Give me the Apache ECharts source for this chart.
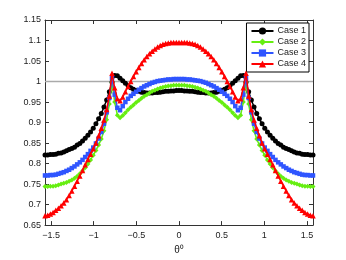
<!DOCTYPE html>
<html><head><meta charset="utf-8">
<script src="https://cdn.jsdelivr.net/npm/echarts@6/dist/echarts.min.js"></script>
<style>html,body{margin:0;padding:0;background:#fff}#c{width:346px;height:260px}</style>
</head><body><div id="c"></div>
<script>
const seriesNames = ['Case 1','Case 2','Case 3','Case 4'];
const xTicks = [-1.5,-1,-0.5,0,0.5,1,1.5];
const xTickLabels = ['\u22121.5','\u22121','\u22120.5','0','0.5','1','1.5'];
const yTicks = [0.65,0.7,0.75,0.8,0.85,0.9,0.95,1,1.05,1.1,1.15];
// sample grid: 101 angles from -pi/2 to pi/2
const theta = Array.from({length:101},(_,i)=>-Math.PI/2 + i*Math.PI/100);

const case1 = [
0.821,0.821,0.822,0.822,0.823,0.825,0.826,0.828,0.831,0.834,
0.837,0.840,0.845,0.849,0.855,0.862,0.869,0.877,0.886,0.897,
0.909,0.922,0.938,0.955,0.975,0.998,1.015,1.014,1.008,1.002,
0.996,0.990,0.985,0.981,0.978,0.976,0.974,0.973,0.972,0.972,
0.972,0.973,0.973,0.974,0.975,0.976,0.976,0.977,0.977,0.978,
0.978,
0.978,0.977,0.977,0.976,0.976,0.975,0.974,0.973,0.973,0.972,
0.972,0.972,0.973,0.974,0.976,0.978,0.981,0.985,0.990,0.996,
1.002,1.008,1.014,1.015,0.998,0.975,0.955,0.938,0.922,0.909,
0.897,0.886,0.877,0.869,0.862,0.855,0.849,0.845,0.840,0.837,
0.834,0.831,0.828,0.826,0.825,0.823,0.822,0.822,0.821,0.821];

const case2 = [
0.744,0.744,0.745,0.745,0.746,0.748,0.750,0.752,0.754,0.757,
0.760,0.764,0.769,0.775,0.782,0.790,0.799,0.809,0.820,0.832,
0.845,0.860,0.880,0.907,0.945,0.998,0.950,0.918,0.912,0.917,
0.924,0.931,0.937,0.943,0.949,0.954,0.959,0.964,0.968,0.972,
0.976,0.979,0.982,0.984,0.986,0.988,0.989,0.990,0.991,0.991,
0.991,
0.991,0.991,0.990,0.989,0.988,0.986,0.984,0.982,0.979,0.976,
0.972,0.968,0.964,0.959,0.954,0.949,0.943,0.937,0.931,0.924,
0.917,0.912,0.918,0.950,0.998,0.945,0.907,0.880,0.860,0.845,
0.832,0.820,0.809,0.799,0.790,0.782,0.775,0.769,0.764,0.760,
0.757,0.754,0.752,0.750,0.748,0.746,0.745,0.745,0.744,0.744];

const case3 = [
0.771,0.771,0.772,0.772,0.773,0.775,0.777,0.779,0.782,0.785,
0.789,0.793,0.798,0.803,0.809,0.816,0.823,0.831,0.839,0.849,
0.861,0.877,0.897,0.925,0.960,1.008,0.968,0.936,0.930,0.940,
0.950,0.958,0.965,0.970,0.975,0.980,0.984,0.988,0.991,0.994,
0.997,0.999,1.001,1.002,1.003,1.004,1.005,1.005,1.006,1.006,
1.006,
1.006,1.006,1.005,1.005,1.004,1.003,1.002,1.001,0.999,0.997,
0.994,0.991,0.988,0.984,0.980,0.975,0.970,0.965,0.958,0.950,
0.940,0.930,0.936,0.968,1.008,0.960,0.925,0.897,0.877,0.861,
0.849,0.839,0.831,0.823,0.816,0.809,0.803,0.798,0.793,0.789,
0.785,0.782,0.779,0.777,0.775,0.773,0.772,0.772,0.771,0.771];

const case4 = [
0.673,0.674,0.677,0.681,0.686,0.691,0.697,0.704,0.712,0.722,
0.733,0.745,0.757,0.770,0.783,0.797,0.810,0.823,0.836,0.850,
0.868,0.886,0.906,0.932,0.965,1.020,0.985,0.958,0.953,0.962,
0.975,0.988,1.000,1.012,1.024,1.034,1.044,1.053,1.061,1.068,
1.074,1.079,1.084,1.088,1.091,1.093,1.094,1.095,1.095,1.095,
1.095,
1.095,1.095,1.095,1.094,1.093,1.091,1.088,1.084,1.079,1.074,
1.068,1.061,1.053,1.044,1.034,1.024,1.012,1.000,0.988,0.975,
0.962,0.953,0.958,0.985,1.020,0.965,0.932,0.906,0.886,0.868,
0.850,0.836,0.823,0.810,0.797,0.783,0.770,0.757,0.745,0.733,
0.722,0.712,0.704,0.697,0.691,0.686,0.681,0.677,0.674,0.673];

const refLevel = 1;

const colors = ['#000000','#66ee11','#2f55ff','#ff0000'];
const symbols = ['circle','diamond','rect','triangle'];
const sizes = [5,5,4.5,5.5];
const allData = [case1,case2,case3,case4];

const font = 'Liberation Sans, Arial, Helvetica, sans-serif';
const axisCol = '#333';
const xMin = -Math.PI/2, xMax = Math.PI/2;

function xAxisDef(pos, show){
  return {
    type:'value', position:pos, min:xMin, max:xMax,
    axisLine:{show:true, onZero:false, lineStyle:{color:axisCol,width:1}},
    axisTick:{show:true, inside:true, length:4, customValues:xTicks, lineStyle:{color:axisCol}},
    axisLabel:{show:show, customValues:xTicks, color:'#222', fontSize:9, fontFamily:font, margin:6,
      formatter:(v)=>{const k=xTicks.findIndex(t=>Math.abs(t-v)<1e-9);return k>=0?xTickLabels[k]:'';}},
    splitLine:{show:false},
    name: show ? '\u03b8\u2070' : '', nameLocation:'middle', nameGap:18,
    nameTextStyle:{color:'#222', fontSize:10, fontFamily:font}
  };
}
function yAxisDef(pos, show){
  return {
    type:'value', position:pos, min:0.65, max:1.15, interval:0.05,
    axisLine:{show:true, onZero:false, lineStyle:{color:axisCol,width:1}},
    axisTick:{show:true, inside:true, length:4, lineStyle:{color:axisCol}},
    axisLabel:{show:show, color:'#222', fontSize:9, fontFamily:font, margin:4,
      formatter:(v)=>String(parseFloat(v.toFixed(2)))},
    splitLine:{show:false}
  };
}

const series = [{
  name:'ref', type:'line', data:[[xMin,refLevel],[xMax,refLevel]], showSymbol:false, silent:true,
  lineStyle:{color:'#aaaaaa', width:1.5}, z:1, animation:false
}];
allData.forEach((d,k)=>{
  series.push({
    name:seriesNames[k], type:'line', data:theta.map((t,i)=>[t,d[i]]),
    symbol:symbols[k], symbolSize:sizes[k], showAllSymbol:true,
    itemStyle:{color:colors[k]}, lineStyle:{color:colors[k], width:1.5},
    z:2+k, animation:false
  });
});

const chart = echarts.init(document.getElementById('c'));
chart.setOption({
  backgroundColor:'#fff',
  animation:false,
  grid:{left:45, right:33, top:20, bottom:30, containLabel:false},
  xAxis:[xAxisDef('bottom',true), xAxisDef('top',false)],
  yAxis:[yAxisDef('left',true), yAxisDef('right',false)],
  legend:{
    data:seriesNames, orient:'vertical', right:37, top:23,
    backgroundColor:'#fff', borderColor:'#000', borderWidth:1,
    padding:[3,3,3,4], itemGap:1, itemWidth:22, itemHeight:9,
    textStyle:{fontSize:9, fontFamily:font, color:'#222', lineHeight:10, padding:[0,0,0,-1]}
  },
  series:series
});
</script></body></html>
